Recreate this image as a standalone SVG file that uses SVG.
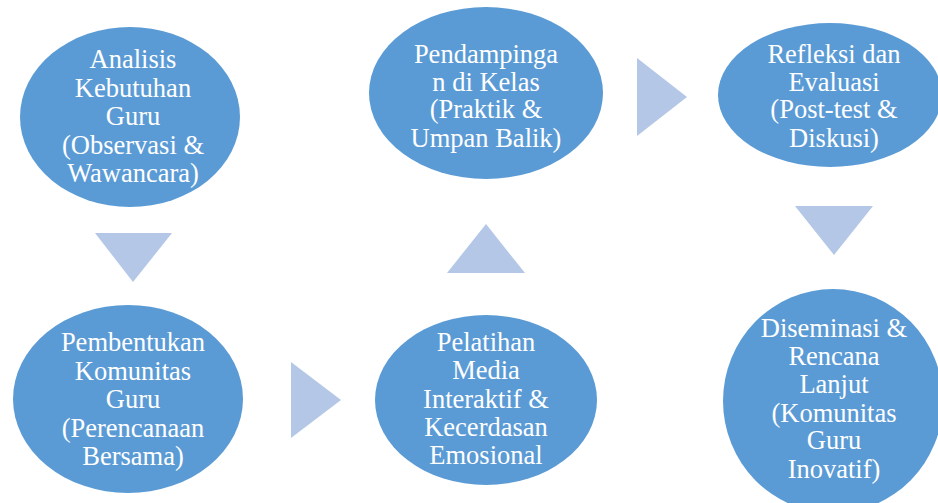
<svg xmlns="http://www.w3.org/2000/svg" width="938" height="503" viewBox="0 0 938 503">
<style>
.node ellipse{fill:#5B9BD5;}
.node text{font-family:'Liberation Serif','Times New Roman',Times,'DejaVu Serif',serif;font-size:26.5px;fill:#FFFFFF;text-anchor:middle;}
.arrow{fill:#B4C7E7;}
</style>
<rect width="938" height="503" fill="#FFFFFF"/>
<g id="connectors">
<polygon class="arrow" points="95,233 172,233 133,282"/>
<polygon class="arrow" points="291,362 291,438 341,400"/>
<polygon class="arrow" points="447,273 525,273 486,224"/>
<polygon class="arrow" points="637,58 637,136 687,97"/>
<polygon class="arrow" points="795,206 873,206 834,255"/>
</g>
<g id="node1" class="node" font-family="Liberation Serif, serif">
<ellipse cx="130" cy="117" rx="110" ry="90"/>
<text x="133" y="68">Analisis</text>
<text x="133" y="97">Kebutuhan</text>
<text x="133" y="125">Guru</text>
<text x="133" y="154">(Observasi &amp;</text>
<text x="133" y="182">Wawancara)</text>
</g>
<g id="node2" class="node" font-family="Liberation Serif, serif">
<ellipse cx="128" cy="399" rx="115" ry="94"/>
<text x="133" y="351">Pembentukan</text>
<text x="133" y="380">Komunitas</text>
<text x="133" y="408">Guru</text>
<text x="133" y="437">(Perencanaan</text>
<text x="133" y="465">Bersama)</text>
</g>
<g id="node3" class="node" font-family="Liberation Serif, serif">
<ellipse cx="486" cy="400" rx="111" ry="85"/>
<text x="486" y="351">Pelatihan</text>
<text x="486" y="379">Media</text>
<text x="486" y="408">Interaktif &amp;</text>
<text x="486" y="436">Kecerdasan</text>
<text x="486" y="464">Emosional</text>
</g>
<g id="node4" class="node" font-family="Liberation Serif, serif">
<ellipse cx="486" cy="93" rx="117" ry="86"/>
<text x="486" y="63">Pendampinga</text>
<text x="486" y="91">n di Kelas</text>
<text x="486" y="118">(Praktik &amp;</text>
<text x="486" y="147">Umpan Balik)</text>
</g>
<g id="node5" class="node" font-family="Liberation Serif, serif">
<ellipse cx="830" cy="95" rx="112" ry="72"/>
<text x="834" y="63">Refleksi dan</text>
<text x="834" y="91">Evaluasi</text>
<text x="834" y="118">(Post-test &amp;</text>
<text x="834" y="147">Diskusi)</text>
</g>
<g id="node6" class="node" font-family="Liberation Serif, serif">
<ellipse cx="833" cy="401" rx="110" ry="112"/>
<text x="834" y="337">Diseminasi &amp;</text>
<text x="834" y="365">Rencana</text>
<text x="834" y="393">Lanjut</text>
<text x="834" y="422">(Komunitas</text>
<text x="834" y="449">Guru</text>
<text x="834" y="478">Inovatif)</text>
</g>
</svg>
